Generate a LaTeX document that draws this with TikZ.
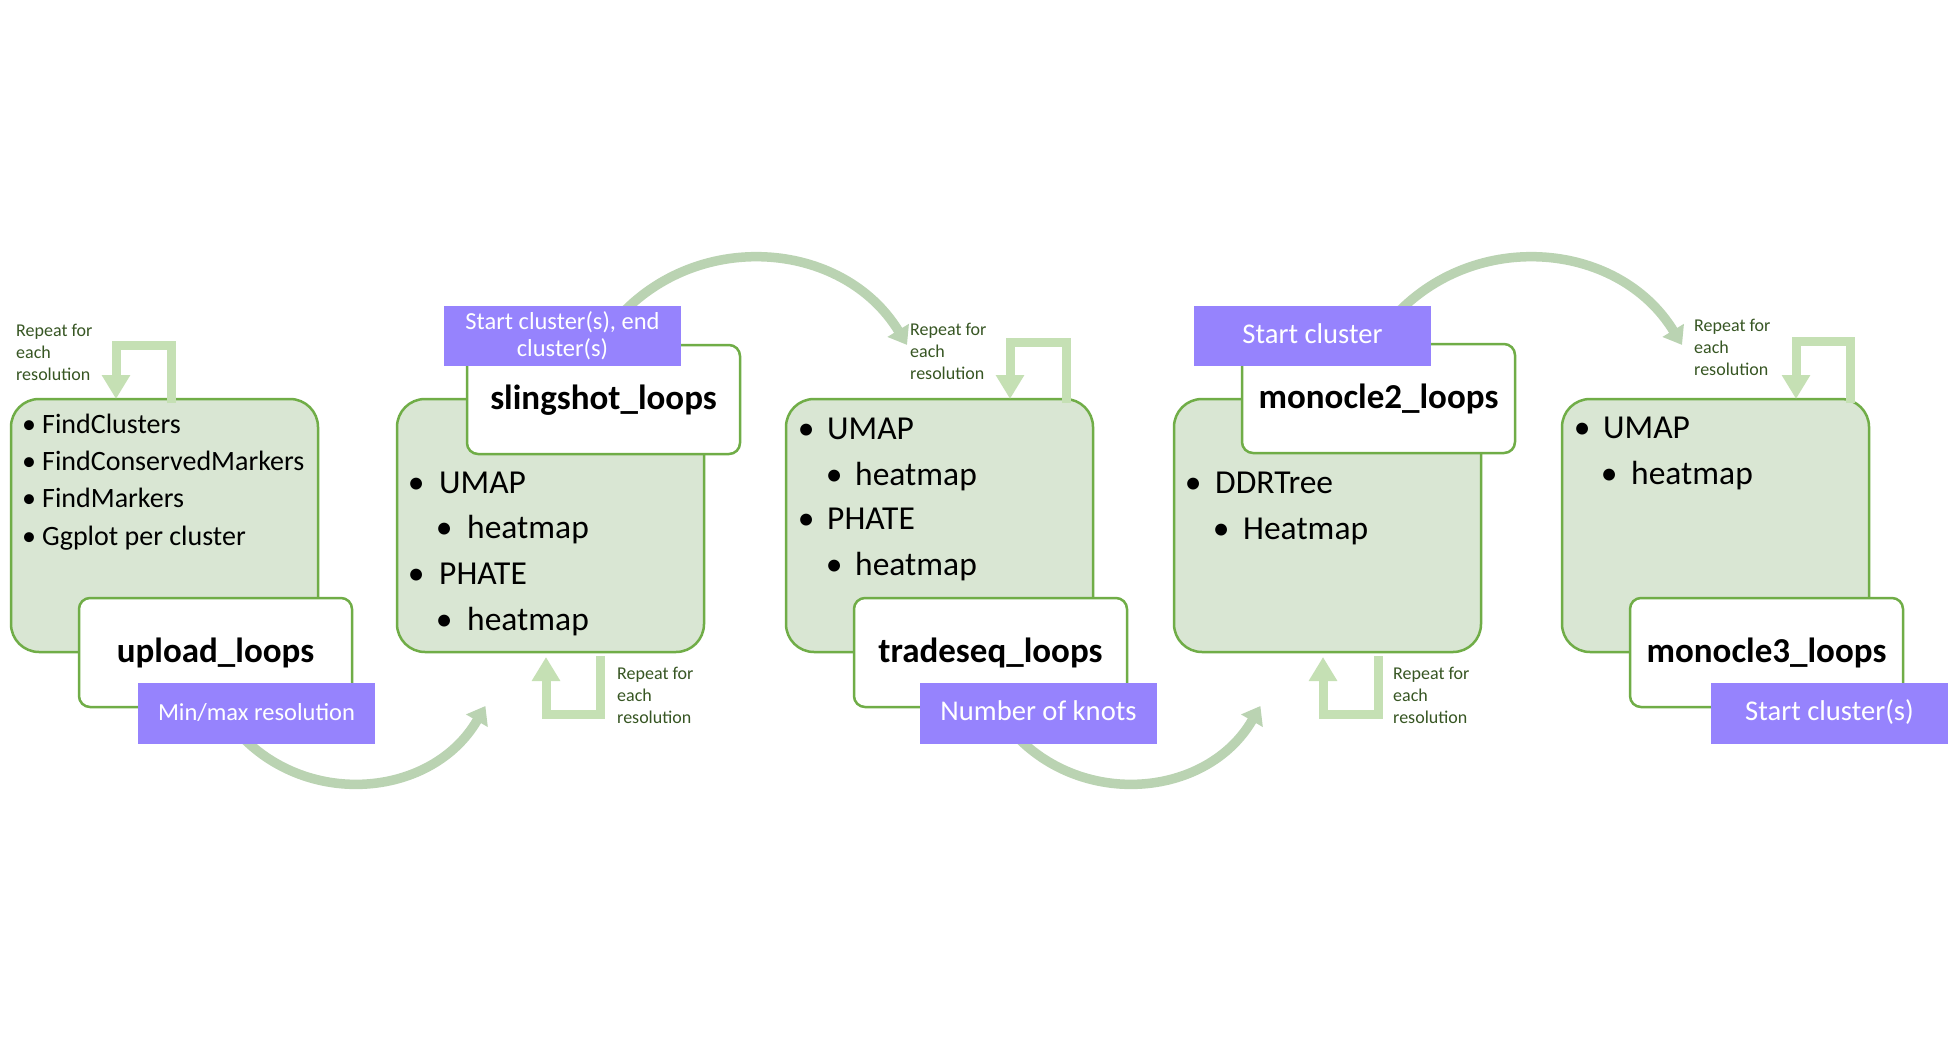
\documentclass[tikz,border=0pt]{standalone}
\usepackage{fontspec}
\setmainfont{Carlito}
\usetikzlibrary{arrows.meta,calc}
\definecolor{gborder}{HTML}{70AD47}
\definecolor{gfill}{HTML}{D9E6D3}
\definecolor{purp}{HTML}{9683FD}
\definecolor{loopc}{HTML}{C5E0B4}
\definecolor{arrc}{HTML}{BAD3B2}
\definecolor{rtext}{HTML}{375623}
\newcommand{\bu}[1]{\llap{\makebox[0pt][c]{•}\hspace{#1}}}
\begin{document}
\begin{tikzpicture}[x=1pt,y=-1pt,
  gbox/.style={draw=gborder, fill=gfill, line width=2.5pt, rounded corners=28pt, minimum width=307pt, minimum height=253pt, anchor=north west, inner sep=0pt, outer sep=0pt},
  wbox/.style={draw=gborder, fill=white, line width=2.5pt, rounded corners=11pt, minimum width=273pt, minimum height=109pt, anchor=north west, inner sep=0pt, outer sep=0pt},
  pbox/.style={fill=purp, minimum width=237pt, minimum height=60.5pt, anchor=north west, inner sep=0pt, outer sep=0pt, text=white, font=\fontsize{24.5}{27}\selectfont, align=center},
  pone/.style={pbox, text height=18pt, text depth=4pt},
  pbig/.style={pbox, font=\fontsize{28.6}{32}\selectfont, text height=20pt, text depth=5pt},
  ttl/.style={anchor=base, inner sep=0pt, font=\fontsize{35}{40}\selectfont\bfseries},
  itA/.style={anchor=base west, inner sep=0pt, font=\fontsize{28}{32}\selectfont},
  itB/.style={anchor=base west, inner sep=0pt, font=\fontsize{33.5}{38}\selectfont},
  rep/.style={anchor=west, inner sep=0pt, align=left, text=rtext, font=\fontsize{18}{22}\selectfont},
  loopline/.style={draw=loopc, line width=9pt, line cap=butt, line join=miter, -{Triangle[width=27pt,length=24pt]}},
  bigarr/.style={draw=arrc, line width=9.5pt, -{Triangle[width=24pt,length=17pt]}}
]
\fill[white] (0,0) rectangle (1950,1052);
\useasboundingbox (0,0) rectangle (1950,1052);

% big curved arrows (behind everything)
\coordinate (a1s) at (234,728);   \coordinate (a1e) at (485.4,706);
\coordinate (a2s) at (613.8,322.6); \coordinate (a2e) at (907,344.9);
\coordinate (a3s) at (1009,728);  \coordinate (a3e) at (1260.4,706);
\coordinate (a4s) at (1388.8,322.6); \coordinate (a4e) at (1682,344.9);
\draw[bigarr] (a1s) .. controls +(68.7,81.9) and +(-53.5,92.6) .. (a1e);
\draw[bigarr] (a2s) .. controls +(79.6,-94.8) and +(-64.4,-105.7) .. (a2e);
\draw[bigarr] (a3s) .. controls +(68.7,81.9) and +(-53.5,92.6) .. (a3e);
\draw[bigarr] (a4s) .. controls +(79.6,-94.8) and +(-64.4,-105.7) .. (a4e);

% green boxes
\node[gbox] (g1) at (11,399) {};
\node[gbox] (g2) at (397,399) {};
\node[gbox] (g3) at (786,399) {};
\node[gbox] (g4) at (1174,399) {};
\node[gbox] (g5) at (1562,399) {};

% white title boxes
\node[wbox] (w1) at (79,598) {};
\node[wbox] (w2) at (467,345) {};
\node[wbox] (w3) at (854,598) {};
\node[wbox] (w4) at (1242,344) {};
\node[wbox] (w5) at (1630,598) {};

\node[ttl] (t1) at ($(w1.north)+(0,64)$) {upload\_loops};
\node[ttl] (t2) at ($(w2.north)+(0,64)$) {slingshot\_loops};
\node[ttl] (t3) at ($(w3.north)+(0,64)$) {tradeseq\_loops};
\node[ttl] (t4) at ($(w4.north)+(0,64)$) {monocle2\_loops};
\node[ttl] (t5) at ($(w5.north)+(0,64)$) {monocle3\_loops};

% purple parameter boxes
\node[pone] (p1) at (138,683) {Min/max resolution};
\node[pbox] (p2) at (444,305.5) {Start cluster(s), end\\cluster(s)};
\node[pbig] (p3) at (920,683) {Number of knots};
\node[pbig] (p4) at (1194,305.5) {Start cluster};
\node[pbig] (p5) at (1711,683) {Start cluster(s)};

% loop arrows
\draw[loopline] ($(g1.north west)+(160,4)$) |- ($(g1.north west)+(105,-54)$) -- ($(g1.north west)+(105,0)$);
\draw[loopline] ($(g3.north west)+(280,4)$) |- ($(g3.north west)+(224,-57)$) -- ($(g3.north west)+(224,0)$);
\draw[loopline] ($(g5.north west)+(288,4)$) |- ($(g5.north west)+(234,-58)$) -- ($(g5.north west)+(234,0)$);
\draw[loopline] ($(g2.south west)+(203,4)$) |- ($(g2.south west)+(149,62)$) -- ($(g2.south west)+(149,5)$);
\draw[loopline] ($(g4.south west)+(204,4)$) |- ($(g4.south west)+(149,62)$) -- ($(g4.south west)+(149,5)$);

% repeat labels
\node[rep] (r1) at (16,352.6) {Repeat for\\each\\resolution};
\node[rep] (r2) at (617,695.6) {Repeat for\\each\\resolution};
\node[rep] (r3) at (910,351.6) {Repeat for\\each\\resolution};
\node[rep] (r4) at (1393,695.6) {Repeat for\\each\\resolution};
\node[rep] (r5) at (1694,347.6) {Repeat for\\each\\resolution};

% box 1 items
\node[itA] (b1a) at (42,433) {\bu{13pt}FindClusters};
\node[itA] (b1b) at (42,470) {\bu{13pt}FindConservedMarkers};
\node[itA] (b1c) at (42,507) {\bu{13pt}FindMarkers};
\node[itA] (b1d) at (42,545) {\bu{13pt}Ggplot per cluster};

% box 2 items
\node[itB] (b2a) at (439,493) {\bu{23pt}UMAP};
\node[itB] (b2b) at (467,538) {\bu{23pt}heatmap};
\node[itB] (b2c) at (439,584) {\bu{23pt}PHATE};
\node[itB] (b2d) at (467,630) {\bu{23pt}heatmap};

% box 3 items
\node[itB] (b3a) at (827,439) {\bu{21pt}UMAP};
\node[itB] (b3b) at (855,485) {\bu{21pt}heatmap};
\node[itB] (b3c) at (827,529) {\bu{21pt}PHATE};
\node[itB] (b3d) at (855,575) {\bu{21pt}heatmap};

% box 4 items
\node[itB] (b4a) at (1215,493) {\bu{22pt}DDRTree};
\node[itB] (b4b) at (1243,539) {\bu{22pt}Heatmap};

% box 5 items
\node[itB] (b5a) at (1603,438) {\bu{21pt}UMAP};
\node[itB] (b5b) at (1631,484) {\bu{22pt}heatmap};
\end{tikzpicture}
\end{document}
